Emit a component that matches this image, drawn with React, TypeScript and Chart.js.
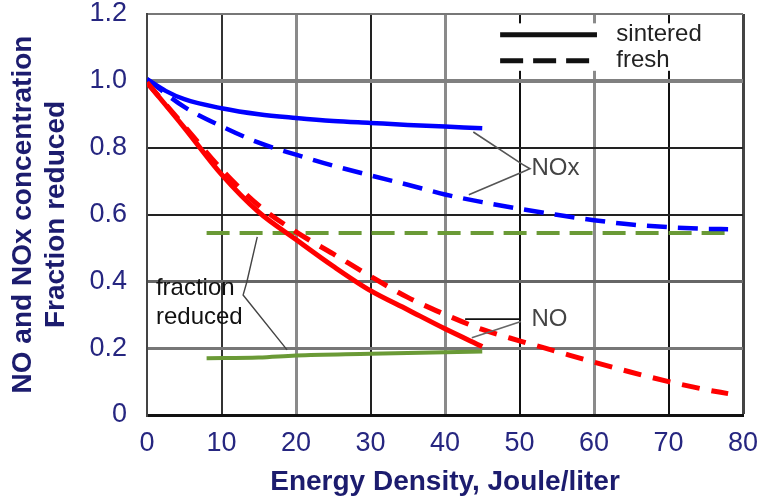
import React, { useEffect, useRef } from 'react';
import { Chart, registerables } from 'chart.js';

Chart.register(...registerables);

const xTickLabels = ['0', '10', '20', '30', '40', '50', '60', '70', '80'];
const yTickLabels = ['0', '0.2', '0.4', '0.6', '0.8', '1.0', '1.2'];

const noSinteredX = [0, 5, 10, 15, 20, 25, 30, 35, 40, 45];
const noSinteredY = [0.995, 0.86, 0.72, 0.607, 0.525, 0.445, 0.372, 0.315, 0.258, 0.205];

const noFreshX = [0, 5, 10, 15, 20, 25, 30, 35, 40, 45, 50, 55, 60, 65, 70, 75, 78];
const noFreshY = [0.995, 0.865, 0.735, 0.627, 0.548, 0.482, 0.415, 0.352, 0.301, 0.256, 0.222, 0.19, 0.158, 0.128, 0.1, 0.076, 0.064];

const noxSinteredX = [0, 2.5, 5, 10, 15, 20, 25, 30, 35, 40, 45];
const noxSinteredY = [1.005, 0.97, 0.945, 0.918, 0.9, 0.889, 0.88, 0.874, 0.868, 0.863, 0.858];

const noxFreshX = [0, 5, 10, 15, 20, 25, 30, 35, 40, 45, 50, 55, 60, 65, 70, 75, 78];
const noxFreshY = [1.005, 0.922, 0.864, 0.815, 0.779, 0.746, 0.717, 0.689, 0.66, 0.637, 0.617, 0.599, 0.583, 0.57, 0.562, 0.557, 0.556];

const frSinteredX = [8, 15, 20, 30, 40, 45];
const frSinteredY = [0.17, 0.172, 0.178, 0.183, 0.188, 0.19];

const frFreshX = [8, 20, 40, 60, 78];
const frFreshY = [0.545, 0.545, 0.545, 0.545, 0.545];

const xTitle = 'Energy Density, Joule/liter';
const yTitle = ['NO and NOx concentration', 'Fraction reduced'];

const FONT = '"Liberation Sans", Arial, sans-serif';
const NAVY = '#1c1c6e';

const pts = (xs: number[], ys: number[]) => xs.map((x, i) => ({ x, y: ys[i] }));

const xGridColor: Record<number, string> = { 0: '#444', 10: '#333', 20: '#8a8a8a', 30: '#222', 40: '#8a8a8a', 50: '#111', 60: '#8a8a8a', 70: '#111', 80: '#444' };
const xGridWidth: Record<number, number> = { 0: 2, 10: 2, 20: 3, 30: 2, 40: 3, 50: 2, 60: 3, 70: 2, 80: 3 };
const yGridColor = (v: number) => {
  const k = Math.round(v * 10);
  return ({ 0: '#111', 2: '#777', 4: '#666', 6: '#222', 8: '#222', 10: '#808080', 12: '#777' } as Record<number, string>)[k] || '#444';
};
const yGridWidth = (v: number) => {
  const k = Math.round(v * 10);
  return ({ 0: 3, 2: 3, 4: 3, 6: 2, 8: 2, 10: 4, 12: 2 } as Record<number, number>)[k] || 2;
};

const overlay = {
  id: 'overlay',
  beforeDatasetsDraw(chart: any) {
    const { ctx, scales } = chart;
    const X = (v: number) => scales.x.getPixelForValue(v);
    const Y = (v: number) => scales.y.getPixelForValue(v);
    ctx.save();
    ctx.fillStyle = '#fff';
    const x0 = X(44.5), x1 = X(78.5), y0 = Y(1.172), y1 = Y(1.03);
    ctx.fillRect(x0, y0, x1 - x0, y1 - y0);
    ctx.restore();
  },
  afterDatasetsDraw(chart: any) {
    const { ctx, scales } = chart;
    const X = (v: number) => scales.x.getPixelForValue(v);
    const Y = (v: number) => scales.y.getPixelForValue(v);
    const line = (p: number[][], color: string, width: number, dash: number[] = []) => {
      ctx.save();
      ctx.strokeStyle = color;
      ctx.lineWidth = width;
      ctx.setLineDash(dash);
      ctx.beginPath();
      p.forEach(([a, b], i) => (i === 0 ? ctx.moveTo(X(a), Y(b)) : ctx.lineTo(X(a), Y(b))));
      ctx.stroke();
      ctx.restore();
    };
    const text = (s: string, a: number, b: number, color: string) => {
      ctx.save();
      ctx.fillStyle = color;
      ctx.font = '24px ' + FONT;
      ctx.textAlign = 'left';
      ctx.textBaseline = 'middle';
      ctx.fillText(s, X(a), Y(b));
      ctx.restore();
    };
    // legend
    line([[47.4, 1.138], [60.4, 1.138]], '#111', 5);
    line([[47.4, 1.06], [60.0, 1.06]], '#111', 5, [23, 10]);
    text('sintered', 63.0, 1.14, '#222');
    text('fresh', 63.0, 1.06, '#222');
    // NOx
    line([[43.8, 0.847], [50.4, 0.75], [51.4, 0.737], [50.4, 0.727], [43.2, 0.659]], '#555', 1.6);
    text('NOx', 51.6, 0.737, '#444');
    // NO
    line([[42.7, 0.287], [50.2, 0.287]], '#111', 1.6);
    line([[43.6, 0.231], [50.2, 0.28]], '#666', 1.6);
    text('NO', 51.6, 0.285, '#444');
    // fraction reduced
    line([[14.8, 0.533], [13.4, 0.398], [12.9, 0.359], [18.8, 0.195]], '#444', 1.4);
    text('fraction', 1.2, 0.38, '#111');
    text('reduced', 1.2, 0.293, '#111');
  },
};

export default function App() {
  const ref = useRef<HTMLCanvasElement>(null);
  useEffect(() => {
    if (!ref.current) return;
    const chart = new Chart(ref.current, {
      type: 'line',
      data: {
        datasets: [
          { label: 'NO sintered', data: pts(noSinteredX, noSinteredY), borderColor: '#ff0000', borderWidth: 5 },
          { label: 'NO fresh', data: pts(noFreshX, noFreshY), borderColor: '#ff0000', borderWidth: 5, borderDash: [18, 12] },
          { label: 'NOx sintered', data: pts(noxSinteredX, noxSinteredY), borderColor: '#0000ff', borderWidth: 4.5 },
          { label: 'NOx fresh', data: pts(noxFreshX, noxFreshY), borderColor: '#0000ff', borderWidth: 4.5, borderDash: [20, 11] },
          { label: 'Fraction reduced sintered', data: pts(frSinteredX, frSinteredY), borderColor: '#6a9a36', borderWidth: 4 },
          { label: 'Fraction reduced fresh', data: pts(frFreshX, frFreshY), borderColor: '#6a9a36', borderWidth: 4, borderDash: [23, 10] },
        ].map((d) => ({ ...d, pointRadius: 0, fill: false, cubicInterpolationMode: 'monotone' as const })),
      },
      options: {
        responsive: false,
        maintainAspectRatio: false,
        animation: false,
        devicePixelRatio: 1,
        layout: { padding: { top: 14, right: 23, left: 0, bottom: 0 } },
        plugins: { legend: { display: false }, tooltip: { enabled: false } },
        scales: {
          x: {
            type: 'linear',
            min: 0,
            max: 80,
            afterFit: (s: any) => { s.height = 86; s.paddingLeft = 0; s.paddingRight = 0; },
            afterBuildTicks: (s: any) => { s.ticks = xTickLabels.map((t) => ({ value: Number(t) })); },
            ticks: {
              autoSkip: false,
              maxRotation: 0,
              padding: 12,
              color: '#262680',
              font: { family: FONT, size: 27 },
              callback: (_v: any, i: number) => xTickLabels[i],
            },
            grid: {
              drawTicks: false,
              color: (c: any) => xGridColor[c.tick?.value] || '#444',
              lineWidth: (c: any) => xGridWidth[c.tick?.value] || 2,
            },
            border: { color: '#111', width: 3 },
            title: { display: true, text: xTitle, color: NAVY, font: { family: FONT, size: 28, weight: 'bold' }, padding: { top: 0, bottom: 2 } },
          },
          y: {
            type: 'linear',
            min: 0,
            max: 1.2,
            afterFit: (s: any) => { s.width = 147; s.paddingTop = 0; s.paddingBottom = 0; },
            afterBuildTicks: (s: any) => { s.ticks = yTickLabels.map((t) => ({ value: Number(t) })); },
            ticks: {
              autoSkip: false,
              padding: 20,
              color: '#262680',
              font: { family: FONT, size: 27 },
              callback: (_v: any, i: number) => yTickLabels[i],
            },
            grid: {
              drawTicks: false,
              color: (c: any) => yGridColor(c.tick?.value ?? 0),
              lineWidth: (c: any) => yGridWidth(c.tick?.value ?? 0),
            },
            border: { color: '#444', width: 2 },
            title: { display: true, text: yTitle, color: NAVY, font: { family: FONT, size: 28, weight: 'bold' }, padding: { top: 6, bottom: 0 } },
          },
        },
      },
      plugins: [overlay],
    });
    return () => chart.destroy();
  }, []);
  return (
    <div style={{ position: 'fixed', left: 0, top: 0, width: 766, height: 501, background: '#fff' }}>
      <canvas ref={ref} width={766} height={501} style={{ display: 'block' }} />
    </div>
  );
}
